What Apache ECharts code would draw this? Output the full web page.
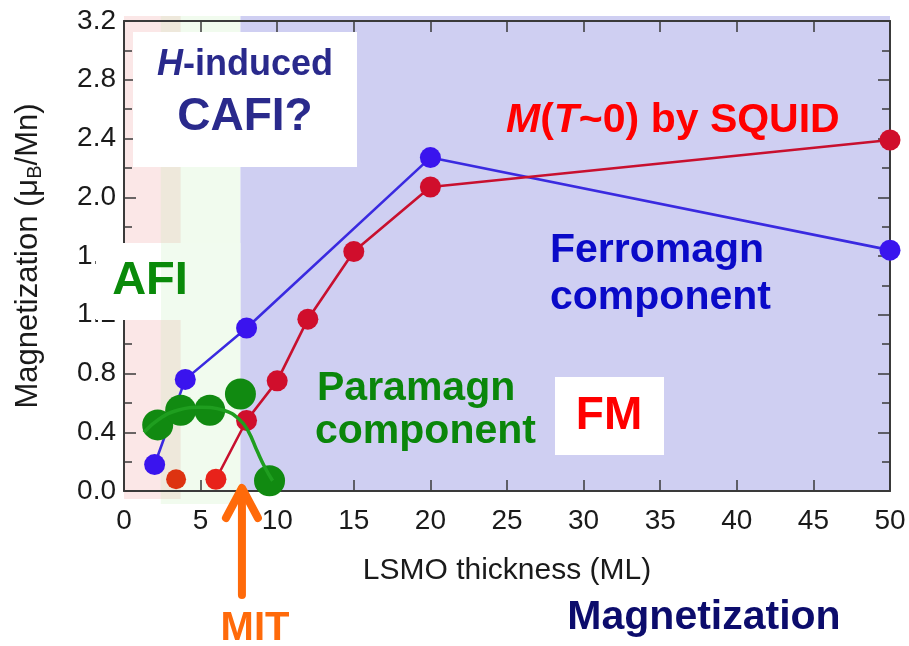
<!DOCTYPE html>
<html>
<head>
<meta charset="utf-8">
<script src="https://cdn.jsdelivr.net/npm/echarts@6/dist/echarts.min.js"></script>
<style>
  html, body { margin: 0; padding: 0; background: #ffffff; }
  #chart { width: 909px; height: 646px; }
</style>
</head>
<body>
<div id="chart"></div>
<script>
// Magnetization of LSMO layers versus thickness (ML)
const ferroThickness = [2, 4, 8, 20, 50];
const ferroMoment = [0.18, 0.76, 1.11, 2.27, 1.64];

const squidThickness = [6, 8, 10, 12, 15, 20, 50];
const squidMoment = [0.08, 0.48, 0.75, 1.17, 1.63, 2.07, 2.39];

const squidThinThickness = [3.4];
const squidThinMoment = [0.08];

const paraThickness = [2.2, 3.7, 5.6, 7.6, 9.5];
const paraMoment = [0.45, 0.55, 0.55, 0.66, 0.07];

const paraGuideThickness = [1.3, 2.3, 3.5, 5.0, 6.5, 7.5, 8.1, 8.7, 9.2, 9.7];
const paraGuideMoment = [0.40, 0.49, 0.55, 0.57, 0.55, 0.49, 0.41, 0.27, 0.16, 0.07];

// phase regions along the thickness axis
const afiRegion = [0, 3.7];
const cafiRegion = [2.4, 7.6];
const fmRegion = [7.6, 50];
const mitThickness = 7.6;

const xRange = [0, 50];
const xStep = 5;
const yRange = [0, 3.2];
const yStep = 0.4;

const zip = (xs, ys) => xs.map((x, i) => [x, ys[i]]);

const FONT = '"Liberation Sans", Arial, Helvetica, sans-serif';
const axisColor = '#3a3a3a';

const baseX = {
  type: 'value', min: xRange[0], max: xRange[1], interval: xStep,
  axisLine: { show: true, onZero: false, lineStyle: { color: axisColor, width: 2 } },
  axisTick: { show: true, inside: true, length: 11, lineStyle: { color: axisColor, width: 1.5 } },
  splitLine: { show: false }
};
const baseY = {
  type: 'value', min: yRange[0], max: yRange[1], interval: yStep,
  axisLine: { show: true, onZero: false, lineStyle: { color: axisColor, width: 2 } },
  axisTick: { show: true, inside: true, length: 12, lineStyle: { color: axisColor, width: 1.5 } },
  minorTick: { show: true, splitNumber: 2, length: 8, lineStyle: { color: axisColor, width: 1.5 } },
  splitLine: { show: false }
};

const chart = echarts.init(document.getElementById('chart'), null, { renderer: 'canvas' });

const option = {
  animation: false,
  backgroundColor: '#ffffff',
  grid: { left: 124, right: 19, top: 21, bottom: 155, containLabel: false },
  xAxis: [
    Object.assign({}, baseX, {
      position: 'bottom',
      name: 'LSMO thickness (ML)',
      nameLocation: 'middle',
      nameGap: 65,
      nameTextStyle: { fontFamily: FONT, fontSize: 30, color: '#1a1a1a' },
      axisLabel: { show: true, margin: 16, fontFamily: FONT, fontSize: 28, color: '#1a1a1a' }
    }),
    Object.assign({}, baseX, { position: 'top', axisLabel: { show: false } })
  ],
  yAxis: [
    Object.assign({}, baseY, {
      position: 'left',
      name: 'Magnetization ({mu|μ}{sub|B}/Mn)',
      nameLocation: 'middle',
      nameGap: 79,
      nameTextStyle: {
        fontFamily: FONT, fontSize: 31, color: '#1a1a1a', lineHeight: 34,
        rich: {
          mu: { fontFamily: FONT, fontSize: 31, color: '#1a1a1a', lineHeight: 34 },
          sub: { fontFamily: FONT, fontSize: 20, color: '#1a1a1a', lineHeight: 20, verticalAlign: 'bottom' }
        }
      },
      axisLabel: {
        show: true, margin: 8, fontFamily: FONT, fontSize: 28, color: '#1a1a1a',
        formatter: v => v.toFixed(1)
      }
    }),
    Object.assign({}, baseY, { position: 'right', axisLabel: { show: false } })
  ],
  series: [
    {
      name: 'Ferromagn component',
      type: 'line',
      data: zip(ferroThickness, ferroMoment),
      symbol: 'circle', symbolSize: 21,
      itemStyle: { color: '#3a14ee' },
      lineStyle: { color: '#3a2ae0', width: 2.6 },
      z: 3
    },
    {
      name: 'M(T~0) by SQUID',
      type: 'line',
      data: zip(squidThickness, squidMoment).map((p, i) =>
        i === 0 ? { value: p, itemStyle: { color: '#e8221a' } } : p),
      symbol: 'circle', symbolSize: 21,
      itemStyle: { color: '#d00e2c' },
      lineStyle: { color: '#c8102e', width: 2.6 },
      z: 3
    },
    {
      name: 'M(T~0) thin',
      type: 'scatter',
      data: zip(squidThinThickness, squidThinMoment),
      symbol: 'circle', symbolSize: 20,
      itemStyle: { color: '#dd3311', opacity: 1 },
      z: 3
    },
    {
      name: 'Paramagn component',
      type: 'scatter',
      data: zip(paraThickness, paraMoment),
      symbol: 'circle', symbolSize: 31,
      itemStyle: { color: '#118a11', opacity: 1 },
      z: 4
    },
    {
      name: 'Paramagn guide',
      type: 'line',
      data: zip(paraGuideThickness, paraGuideMoment),
      smooth: 0.45,
      showSymbol: false, symbol: 'none',
      lineStyle: { color: '#1f9e1f', width: 3.5 },
      z: 5
    }
  ]
};

chart.setOption(option);

// annotations: phase shading, labels and the MIT arrow
const px = (x, y) => chart.convertToPixel({ seriesIndex: 0 }, [x, y]);
const [xL, yB] = px(xRange[0], yRange[0]);
const [xR, yT] = px(xRange[1], yRange[1]);
const shadeTop = yT - 5;

function band(range, fill, extraBottom) {
  const a = px(range[0], 0)[0];
  const b = px(range[1], 0)[0];
  return {
    type: 'rect', z: -10, silent: true,
    shape: { x: a, y: shadeTop, width: b - a, height: yB + extraBottom - shadeTop },
    style: { fill: fill }
  };
}

function label(text, x, y, size, color, align, rich) {
  const st = {
    text: text, x: x, y: y,
    fill: color,
    font: 'bold ' + size + 'px ' + FONT,
    fontFamily: FONT, fontSize: size, fontWeight: 'bold',
    align: align || 'center', textAlign: align || 'center',
    verticalAlign: 'middle', textVerticalAlign: 'middle'
  };
  if (rich) st.rich = rich;
  return { type: 'text', z: 12, silent: true, style: st };
}

function box(x, y, w, h, fill) {
  return { type: 'rect', z: 10, silent: true, shape: { x: x, y: y, width: w, height: h }, style: { fill: fill || '#ffffff' } };
}

const mitX = px(mitThickness, 0)[0] + 1.5;
const arrowColor = '#ff6a0a';
const italicRed = {
  it: { fontFamily: FONT, fontSize: 41, fontWeight: 'bold', fontStyle: 'italic', fill: '#ff0000' },
  rg: { fontFamily: FONT, fontSize: 41, fontWeight: 'bold', fill: '#ff0000' }
};
const italicNavy = {
  it: { fontFamily: FONT, fontSize: 36, fontWeight: 'bold', fontStyle: 'italic', fill: '#2a2a8c' },
  rg: { fontFamily: FONT, fontSize: 36, fontWeight: 'bold', fill: '#2a2a8c' }
};

chart.setOption({
  graphic: [
    band(afiRegion, 'rgba(246, 196, 196, 0.4)', 8),
    band(cafiRegion, 'rgba(196, 238, 186, 0.24)', 13),
    band(fmRegion, '#cfcff2', 0),

    // H-induced CAFI? box
    box(133, 32, 224, 135),
    label('{it|H}{rg|-induced}', 245, 65, 36, '#2a2a8c', 'center', italicNavy),
    label('CAFI?', 245, 117, 46, '#2a2a8c'),

    // AFI box
    box(96, 243, 65, 77),
    box(161, 243, px(cafiRegion[1], 0)[0] - 161, 77, '#f1fbef'),
    label('AFI', 150, 281, 47, '#0a8a0a'),

    // FM box
    box(555, 377, 109, 78),
    label('FM', 609, 416, 46, '#ff0000'),

    label('{it|M}{rg|(}{it|T}{rg|~0) by SQUID}', 506, 121, 41, '#ff0000', 'left', italicRed),
    label('Ferromagn', 550, 251, 41, '#0a0ac8', 'left'),
    label('component', 550, 298, 41, '#0a0ac8', 'left'),
    label('Paramagn', 317, 389, 41, '#0a860a', 'left'),
    label('component', 315, 432, 41, '#0a860a', 'left'),

    // MIT arrow
    {
      type: 'line', z: 12, silent: true,
      shape: { x1: mitX, y1: 595, x2: mitX, y2: 490 },
      style: { stroke: arrowColor, lineWidth: 8, lineCap: 'round' }
    },
    {
      type: 'polyline', z: 12, silent: true,
      shape: { points: [[mitX - 16, 518], [mitX, 488], [mitX + 16, 518]] },
      style: { stroke: arrowColor, lineWidth: 8, lineCap: 'round', lineJoin: 'round', fill: null }
    },
    label('MIT', 255, 629, 40, '#ff6a0a'),
    label('Magnetization', 704, 618, 41, '#0c0c6c')
  ]
});
</script>
</body>
</html>
